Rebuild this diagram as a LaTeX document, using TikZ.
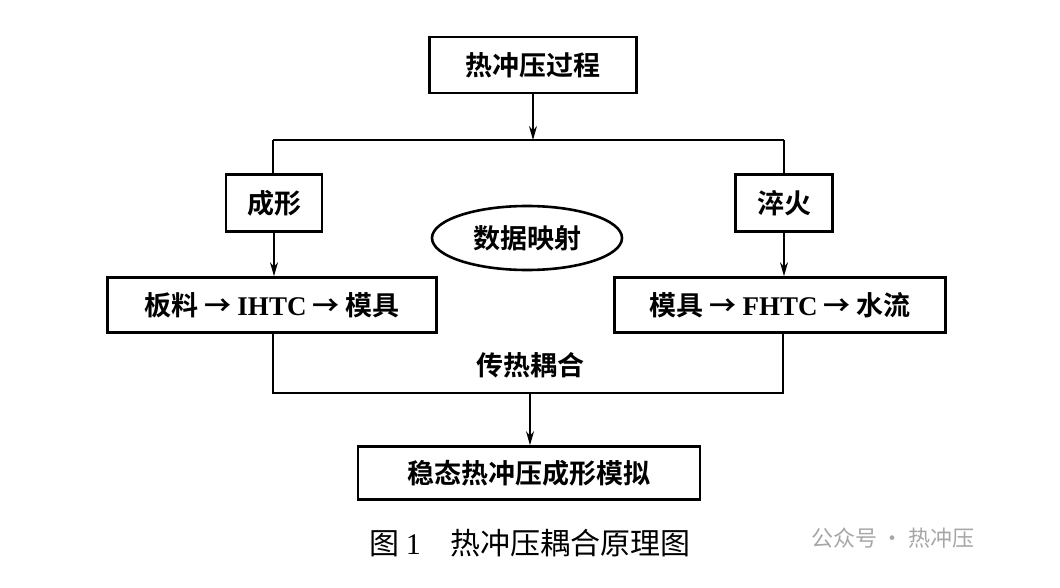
\documentclass[tikz,border=0pt]{standalone}
\usepackage{fontspec}
\setmainfont{Liberation Serif}
\newfontfamily\cjk{Noto Sans CJK SC}
\newfontfamily\cjkb{Noto Sans CJK SC Bold}
\usetikzlibrary{shapes.geometric,arrows.meta}
\begin{document}
\begin{tikzpicture}[
	x=1pt, y=-1pt,
	line width=1.3pt,
	font=\cjkb\fontsize{27}{30}\selectfont
]
\tikzset{
    mybox/.style = {rectangle, draw=black, line width=2.6pt, inner sep=0pt, align=center},
    myell/.style = {ellipse, draw=black, line width=2.6pt, minimum width=190pt, minimum height=64pt},
    arr/.style = {-{Stealth[length=14pt,width=8pt]}},
}
\useasboundingbox (0,0) rectangle (1060,588);
\node[mybox, minimum width=207pt, minimum height=56pt] at (533,65) (proc) {热冲压过程};
\node[mybox, minimum width=96pt, minimum height=57pt] at (274,203) (form) {成形};
\node[mybox, minimum width=97pt, minimum height=57pt] at (784,203) (quen) {淬火};
\node[myell] at (527,238) (map) {数据映射};
\node[mybox, minimum width=329pt, minimum height=55pt] at (272,305) (left) {板料 → {\rmfamily\bfseries IHTC} → 模具};
\node[mybox, minimum width=331pt, minimum height=55pt] at (780,305) (right) {模具 → {\rmfamily\bfseries FHTC} → 水流};
\node at (530,365) (heat) {传热耦合};
\node[mybox, minimum width=342pt, minimum height=53pt] at (529,473) (sim) {稳态热冲压成形模拟};
\node[font=\cjk\fontsize{30}{34}\selectfont] at (530,543) (cap) {图 {\rmfamily 1}\quad 热冲压耦合原理图};
\node[text=gray!70, font=\cjk\fontsize{22}{26}\selectfont] at (893,538) (mark) {公众号 · 热冲压};
%
\coordinate (tl) at (273,140);
\coordinate (tr) at (784,140);
\coordinate (tm) at (533,140);
\coordinate (bl) at (273,393);
\coordinate (br) at (783,393);
\coordinate (bm) at (530,393);
%
\draw[arr] (proc) -- (tm);
\draw (tl) -- (tr);
\draw (tl) -- (form.north -| tl);
\draw (tr) -- (quen.north -| tr);
\draw[arr] (form) -- (left.north -| form);
\draw[arr] (quen) -- (right.north -| quen);
%
\draw (left.south -| bl) -- (bl) -- (br) -- (right.south -| br);
\draw[arr] (bm) -- (sim.north -| bm);
\end{tikzpicture}
\end{document}
